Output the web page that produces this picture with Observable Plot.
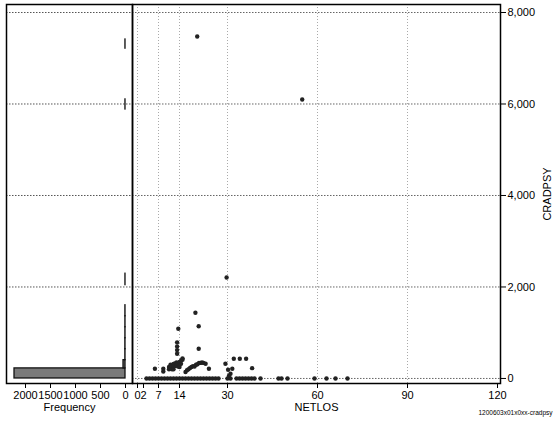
<!DOCTYPE html>
<html><head><meta charset="utf-8">
<script src="https://cdn.jsdelivr.net/npm/d3@7"></script>
<script src="https://cdn.jsdelivr.net/npm/@observablehq/plot@0.6"></script>
<style>
body{margin:0;background:#fff;}
#wrap{position:relative;width:553px;height:421px;overflow:hidden;background:#fff;}
#wrap svg{position:absolute;top:0;}
</style></head><body><div id="wrap"></div>
<script>
// Histogram of CRADPSY (left panel)
const histLo    = [0,    220, 400, 640, 880, 1120, 1360, 2040, 5880, 7210];
const histHi    = [220,  400, 640, 880, 1120, 1360, 1600, 2290, 6100, 7410];
const histCount = [2220, 40,  3,   3,   2,    2,    2,    1,    1,    1];
const freqTicks = [2000, 1500, 1000, 500, 0];

// Scatter CRADPSY vs NETLOS (right panel)
const netlos = [
  3,4,5,6,7,8,9,10,11,12,13,14,15,16,17,18,19,20,21,22,23,24,25,26,27,
  30,31,33,34,35,36,37,38,39,41,47,48,50,59,63,66,70,
  5.8,8.6,8.6,
  10.5,10.5,11,11,11.5,11.5,12,12,12,12.5,12.5,13,13,13.5,13.5,14,14,14,14.5,14.5,15,15,
  13.6,13.2,13.2,13.2,13.2,
  19.3,20.4,20.4,
  16,16.5,17,17.5,18,18.5,19,19.5,20,20.5,21,21.5,22,22.7,23.8,
  29.3,30.2,31.6,31,30.5,32.1,34.1,36.2,38.2,
  29.7,54.9,19.9
];
const cradpsy = [
  0,0,0,0,0,0,0,0,0,0,0,0,0,0,0,0,0,0,0,0,0,0,0,0,0,
  0,0,0,0,0,0,0,0,0,0,0,0,0,0,0,0,0,
  212,212,153,
  250,200,300,220,260,200,320,260,200,330,270,290,350,260,330,360,300,250,390,320,410,440,
  1086,790,700,620,540,
  1436,1143,649,
  140,180,200,230,250,270,260,300,310,340,340,350,340,321,212,
  321,190,212,103,60,430,430,430,226,
  2208,6098,7475
];
const xTicks = [0, 2, 7, 14, 30, 60, 90, 120];
const xGrid  = [0, 7, 14, 30, 60, 90];
const yTicks = [0, 2000, 4000, 6000, 8000];
const caption = "1200603x01x0xx-cradpsy";

const yDomain = [-110, 8175];
const font = {fontFamily: "Liberation Sans, Arial, sans-serif", fontSize: "11px", color: "#000", background: "transparent", overflow: "visible"};

const hist = histLo.map((lo, i) => ({lo, hi: histHi[i], n: histCount[i]}));
const points = netlos.map((x, i) => ({netlos: x, cradpsy: cradpsy[i]}));

const left = Plot.plot({
  width: 140, height: 421,
  marginLeft: 6, marginRight: 8, marginTop: 4, marginBottom: 38,
  style: font,
  x: {domain: [2380, -140]},
  y: {domain: yDomain, axis: null},
  marks: [
    Plot.ruleY(yTicks.filter(v => v > 0), {stroke: "#555", strokeDasharray: "1.5,1.5"}),
    Plot.rectX(hist, {x1: 0, x2: "n", y1: "lo", y2: "hi", fill: "#7a7a7a", stroke: "#111", strokeWidth: 1.3}),
    Plot.axisX({ticks: freqTicks, tickFormat: d => String(d), tickSize: 5, tickPadding: 3, label: "Frequency", labelAnchor: "center", labelOffset: 27, labelArrow: "none"}),
    Plot.frame({stroke: "#000", strokeWidth: 1.5})
  ]
});

const right = Plot.plot({
  width: 421, height: 421,
  marginLeft: 0, marginRight: 53, marginTop: 4, marginBottom: 38,
  style: font,
  x: {domain: [-1.67, 121]},
  y: {domain: yDomain},
  marks: [
    Plot.ruleX(xGrid, {stroke: "#aaa", strokeDasharray: "1,2"}),
    Plot.ruleY(yTicks, {stroke: "#666", strokeDasharray: "1.5,1.5"}),
    Plot.dot(points, {x: "netlos", y: "cradpsy", r: 2.2, fill: "#222", stroke: null}),
    Plot.axisX({ticks: xTicks, tickSize: 5, tickPadding: 3, label: "NETLOS", labelAnchor: "center", labelOffset: 27, labelArrow: "none"}),
    Plot.axisY({anchor: "right", ticks: yTicks, tickFormat: d3.format(","), tickSize: 5, tickPadding: 2, label: "CRADPSY", labelAnchor: "center", labelOffset: 50, labelArrow: "none"}),
    Plot.frame({stroke: "#000", strokeWidth: 1.5}),
    Plot.text([caption], {frameAnchor: "bottom-right", text: d => d, dx: 52, dy: 31, textAnchor: "end", fontSize: 6.5})
  ]
});

left.style.left = "0px";
right.style.left = "132px";
const wrap = document.getElementById("wrap");
wrap.appendChild(left);
wrap.appendChild(right);
</script>
</body></html>
